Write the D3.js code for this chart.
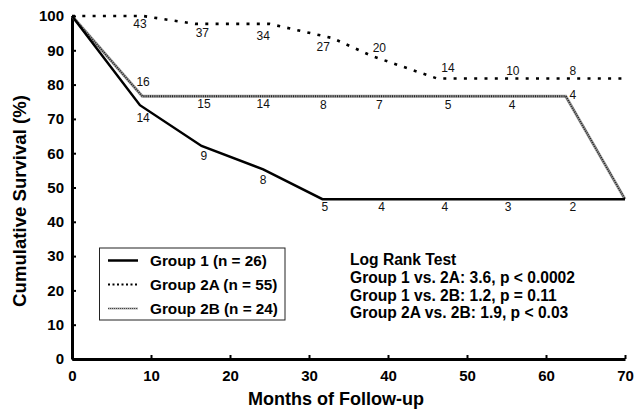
<!DOCTYPE html>
<html>
<head>
<meta charset="utf-8">
<script src="https://cdn.jsdelivr.net/npm/d3@7"></script>
<style>
  html, body { margin: 0; padding: 0; background: #fff; }
  svg { display: block; font-family: "Liberation Sans", Arial, Helvetica, sans-serif; }
  .tick text { font-size: 15px; font-weight: bold; fill: #000; }
  .axis-title { font-size: 18px; font-weight: bold; }
  .axis-title.y-title { font-size: 18.6px; }
  .risk { font-size: 12px; fill: #111; }
  .legend-text { font-size: 15.3px; font-weight: bold; }
  .stats { font-size: 15.6px; font-weight: bold; }
</style>
</head>
<body>
<div id="chart"></div>
<script>
// Kaplan-Meier style curves (month, cumulative survival %)
const group1Months = [0, 8.6, 16.4, 24.2, 31.7, 70];
const group1Survival = [100, 74, 62.1, 55.3, 46.6, 46.6];
const group2AMonths = [0, 9, 15.6, 25, 32.9, 38, 46.2, 70];
const group2ASurvival = [100, 100, 97.7, 97.7, 93.6, 88.3, 81.8, 81.8];
const group2BMonths = [0, 8.9, 62.5, 70];
const group2BSurvival = [100, 76.6, 76.6, 46.6];

// numbers at risk, placed near each curve (month, % level)
const group1AtRisk = [14, 9, 8, 5, 4, 4, 3, 2];
const group1RiskMonths = [9.0, 16.7, 24.2, 32.0, 39.2, 47.2, 55.2, 63.4];
const group1RiskLevel = [70.3, 59.2, 52.2, 44.3, 44.3, 44.3, 44.3, 44.3];
const group2AAtRisk = [43, 37, 34, 27, 20, 14, 10, 8];
const group2ARiskMonths = [8.6, 16.5, 24.2, 31.8, 38.9, 47.6, 55.8, 63.4];
const group2ARiskLevel = [97.7, 95.0, 94.2, 91.0, 90.8, 84.8, 84.0, 84.0];
const group2BAtRisk = [16, 15, 14, 8, 7, 5, 4, 4];
const group2BRiskMonths = [9.0, 16.7, 24.2, 31.8, 38.9, 47.6, 55.7, 63.4];
const group2BRiskLevel = [80.8, 74.4, 74.4, 74.2, 74.2, 74.2, 74.2, 77.2];

const xTicks = [0, 10, 20, 30, 40, 50, 60, 70];
const yTicks = [0, 10, 20, 30, 40, 50, 60, 70, 80, 90, 100];
const legendLabels = ["Group 1 (n = 26)", "Group 2A (n = 55)", "Group 2B (n = 24)"];
const statsLines = [
  "Log Rank Test",
  "Group 1 vs. 2A: 3.6, p < 0.0002",
  "Group 1 vs. 2B: 1.2, p = 0.11",
  "Group 2A vs. 2B: 1.9, p < 0.03",
];

const width = 634, height = 414;
const MARGIN = { top: 16, right: 9, bottom: 55, left: 72 };

const svg = d3.select("#chart").append("svg")
  .attr("width", width).attr("height", height);

const x = d3.scaleLinear().domain([0, 70]).range([MARGIN.left, width - MARGIN.right]);
const y = d3.scaleLinear().domain([0, 100]).range([height - MARGIN.bottom, MARGIN.top]);

// —— Axes ——
const xAxis = svg.append("g")
  .attr("transform", `translate(0,${y(0)})`)
  .call(d3.axisBottom(x).tickValues(xTicks).tickSizeInner(-4).tickSizeOuter(0).tickPadding(11));
const yAxis = svg.append("g")
  .attr("transform", `translate(${x(0)},0)`)
  .call(d3.axisLeft(y).tickValues(yTicks).tickSizeInner(-4).tickSizeOuter(0).tickPadding(8));

[xAxis, yAxis].forEach((a) => {
  a.select(".domain").attr("stroke", "#000").attr("stroke-width", 3);
  a.selectAll(".tick line").attr("stroke", "#000").attr("stroke-width", 2);
});

svg.append("text")
  .attr("class", "axis-title")
  .attr("x", 336).attr("y", 405)
  .attr("text-anchor", "middle")
  .text("Months of Follow-up");

svg.append("text")
  .attr("class", "axis-title y-title")
  .attr("transform", "translate(26,201) rotate(-90)")
  .attr("text-anchor", "middle")
  .text("Cumulative Survival (%)");

// —— Curves ——
const line = d3.line().x((d) => x(d[0])).y((d) => y(d[1]));
const zip = (a, b) => a.map((v, i) => [v, b[i]]);

const STYLES = {
  g1: [{ stroke: "#000", width: 2.5, dash: null }],
  g2A: [{ stroke: "#000", width: 2.6, dash: "3 7.3" }],
  g2B: [
    { stroke: "#9a9a9a", width: 3, dash: null },
    { stroke: "#222", width: 1.8, dash: "1 1.2" },
  ],
};

function drawCurve(pts, styles) {
  styles.forEach((s) => {
    svg.append("path")
      .datum(pts)
      .attr("fill", "none")
      .attr("stroke", s.stroke)
      .attr("stroke-width", s.width)
      .attr("stroke-dasharray", s.dash)
      .attr("stroke-linejoin", "miter")
      .attr("d", line);
  });
}

drawCurve(zip(group2BMonths, group2BSurvival), STYLES.g2B);
drawCurve(zip(group1Months, group1Survival), STYLES.g1);
drawCurve(zip(group2AMonths, group2ASurvival), STYLES.g2A);

// numbers at risk
function drawRisk(counts, months, levels) {
  svg.append("g").selectAll("text")
    .data(counts)
    .join("text")
    .attr("class", "risk")
    .attr("x", (d, i) => x(months[i]))
    .attr("y", (d, i) => y(levels[i]))
    .attr("dy", "0.36em")
    .attr("text-anchor", "middle")
    .text((d) => d);
}
drawRisk(group1AtRisk, group1RiskMonths, group1RiskLevel);
drawRisk(group2AAtRisk, group2ARiskMonths, group2ARiskLevel);
drawRisk(group2BAtRisk, group2BRiskMonths, group2BRiskLevel);

// —— Legend ——
const legend = svg.append("g").attr("transform", "translate(99.5,248)");
legend.append("rect")
  .attr("width", 185.5).attr("height", 72)
  .attr("fill", "#fff").attr("stroke", "#222").attr("stroke-width", 1);

const legendStyles = [
  STYLES.g1,
  [{ stroke: "#000", width: 2, dash: "2 2.5" }],
  [{ stroke: "#aaa", width: 2, dash: null }, { stroke: "#444", width: 1, dash: "1 1" }],
];

legendLabels.forEach((label, i) => {
  const row = legend.append("g").attr("transform", `translate(0,${12.5 + i * 24})`);
  legendStyles[i].forEach((s) => {
    row.append("line")
      .attr("x1", 8.5).attr("x2", 38.5)
      .attr("stroke", s.stroke)
      .attr("stroke-width", s.width)
      .attr("stroke-dasharray", s.dash);
  });
  row.append("text")
    .attr("class", "legend-text")
    .attr("x", 50.5).attr("y", 5.5)
    .text(label);
});

// —— Log rank statistics ——
svg.append("g").selectAll("text")
  .data(statsLines)
  .join("text")
  .attr("class", "stats")
  .attr("x", 350)
  .attr("y", (d, i) => 265 + i * 17.8)
  .text((d) => d);
</script>
</body>
</html>
